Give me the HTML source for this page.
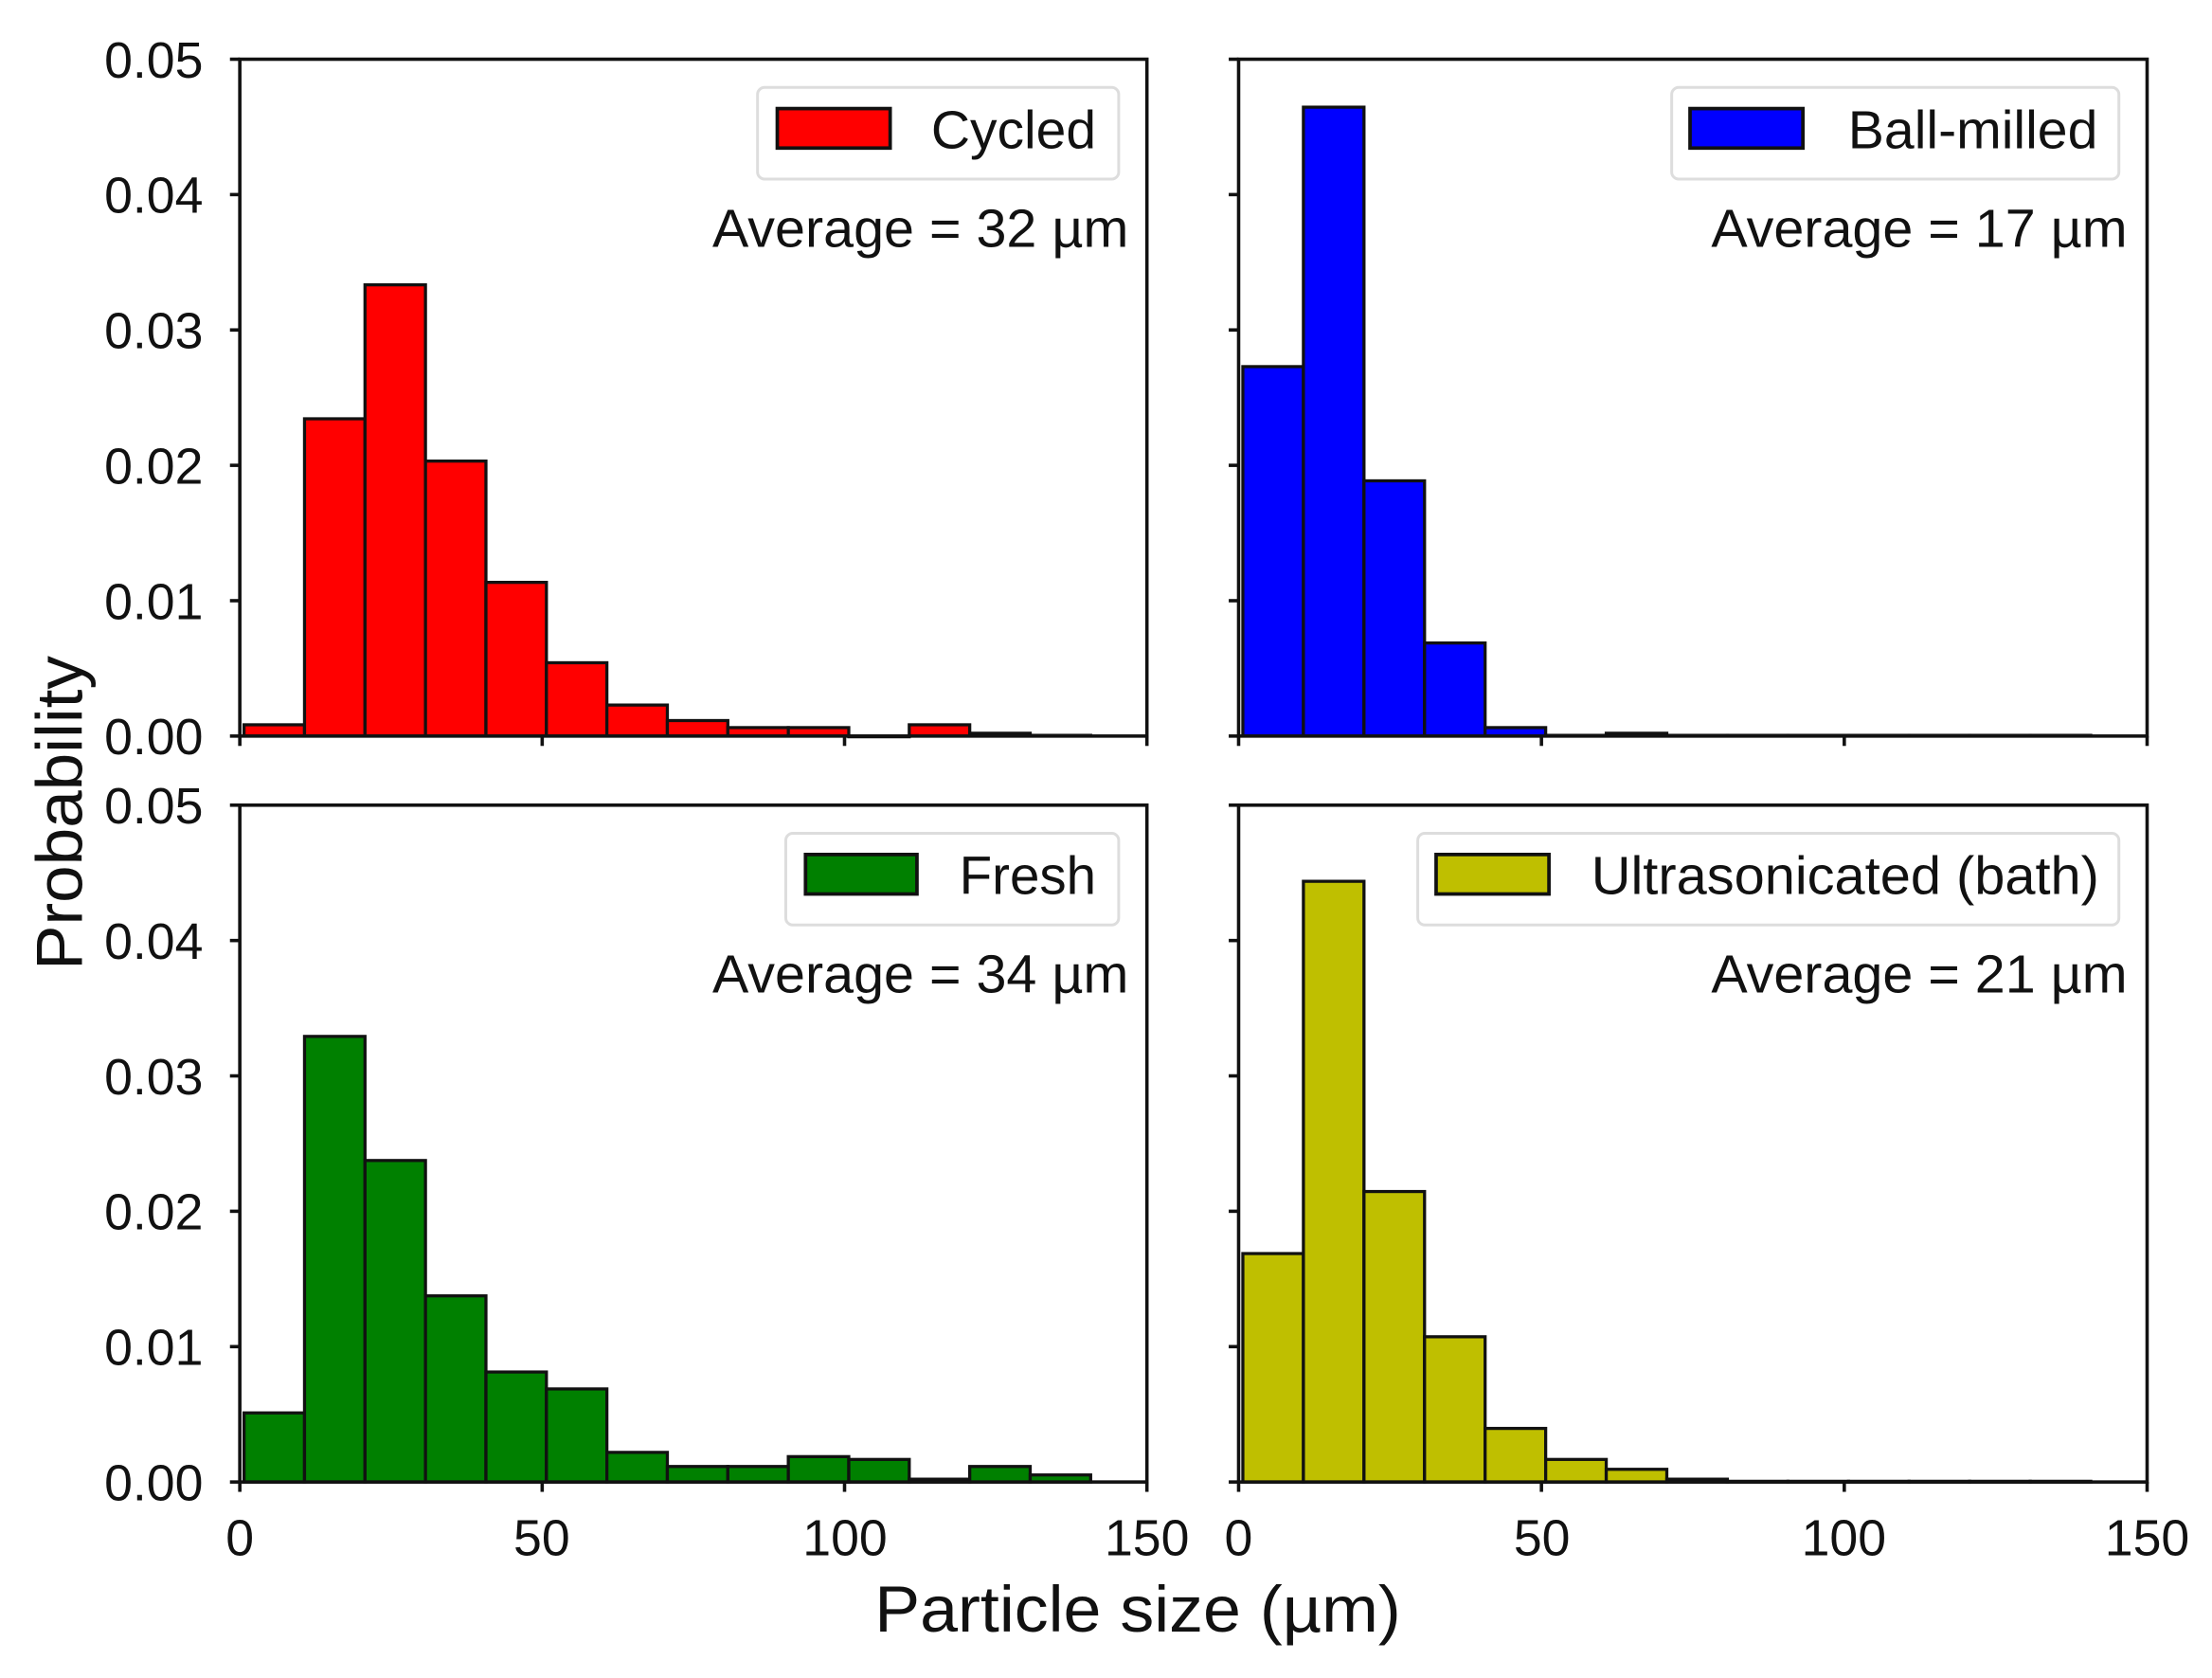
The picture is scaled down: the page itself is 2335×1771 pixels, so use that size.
<!DOCTYPE html>
<html><head><meta charset="utf-8"><style>
html,body{margin:0;padding:0;background:#fff;}
svg{display:block;}
text{font-family:"Liberation Sans",Arial,sans-serif;fill:#111;}
</style></head><body>
<svg id="s" width="2335" height="1771" viewBox="0 0 1568 1190" preserveAspectRatio="none" xmlns="http://www.w3.org/2000/svg">
<g id="bars"></g>
<g fill="none" stroke="#111" stroke-width="2.4">
<rect x="170" y="42" width="643" height="480"/>
<rect x="878" y="42" width="644" height="480"/>
<rect x="170" y="571" width="643" height="480"/>
<rect x="878" y="571" width="644" height="480"/>
</g>
<g id="ticks" stroke="#111" stroke-width="2.4"></g>
<g stroke="#ddd" stroke-width="2" fill="#fff">
<rect x="537" y="62" width="256" height="65" rx="5"/>
<rect x="1185" y="62" width="317" height="65" rx="5"/>
<rect x="557" y="591" width="236" height="65" rx="5"/>
<rect x="1005" y="591" width="497" height="65" rx="5"/>
</g>
<g stroke="#111" stroke-width="2.5">
<rect x="551" y="77" width="80" height="28" fill="#ff0000"/>
<rect x="1198" y="77" width="80" height="28" fill="#0000ff"/>
<rect x="571" y="606" width="79" height="28" fill="#008000"/>
<rect x="1018" y="606" width="80" height="28" fill="#bfbf00"/>
</g>
<g font-size="38">
<text x="660" y="105" textLength="117" lengthAdjust="spacingAndGlyphs">Cycled</text>
<text x="1310" y="105" textLength="177" lengthAdjust="spacingAndGlyphs">Ball-milled</text>
<text x="680" y="634" textLength="97" lengthAdjust="spacingAndGlyphs">Fresh</text>
<text x="1128" y="634" textLength="360" lengthAdjust="spacingAndGlyphs">Ultrasonicated (bath)</text>
<text x="505" y="175" textLength="295" lengthAdjust="spacingAndGlyphs">Average = 32 µm</text>
<text x="1213" y="175" textLength="295" lengthAdjust="spacingAndGlyphs">Average = 17 µm</text>
<text x="505" y="704" textLength="295" lengthAdjust="spacingAndGlyphs">Average = 34 µm</text>
<text x="1213" y="704" textLength="295" lengthAdjust="spacingAndGlyphs">Average = 21 µm</text>
</g>
<g font-size="36" text-anchor="end">
<text x="144" y="55">0.05</text><text x="144" y="151">0.04</text><text x="144" y="247">0.03</text>
<text x="144" y="343">0.02</text><text x="144" y="439">0.01</text><text x="144" y="535">0.00</text>
<text x="144" y="584">0.05</text><text x="144" y="680">0.04</text><text x="144" y="776">0.03</text>
<text x="144" y="872">0.02</text><text x="144" y="968">0.01</text><text x="144" y="1064">0.00</text>
</g>
<g font-size="36" text-anchor="middle">
<text x="170" y="1103">0</text><text x="384" y="1103">50</text><text x="599" y="1103">100</text><text x="813" y="1103">150</text>
<text x="878" y="1103">0</text><text x="1093" y="1103">50</text><text x="1307" y="1103">100</text><text x="1522" y="1103">150</text>
</g>
<text x="620" y="1157" font-size="46" textLength="373" lengthAdjust="spacingAndGlyphs">Particle size (µm)</text>
<text transform="translate(58,688) rotate(-90)" font-size="46" textLength="223" lengthAdjust="spacingAndGlyphs">Probability</text>
</svg>
<script>
var NS="http://www.w3.org/2000/svg";
function el(p,t,a){var e=document.createElementNS(NS,t);for(var k in a)e.setAttribute(k,a[k]);p.appendChild(e);return e;}
var bars=document.getElementById("bars"),ticks=document.getElementById("ticks");
var panels=[
 {x0:170,sx:643/150,base:522,c:"#ff0000",t:[514,297,202,327,413,470,500,511,516,516,522,514,520,521.5]},
 {x0:878,sx:644/150,base:522,c:"#0000ff",t:[260,76,341,456,516,521.5,520,521.5,521.5,521.5,521.5,521.5,521.5,521.5]},
 {x0:170,sx:643/150,base:1051,c:"#008000",t:[1002,735,823,919,973,985,1030,1040,1040,1033,1035,1049,1040,1046]},
 {x0:878,sx:644/150,base:1051,c:"#bfbf00",t:[889,625,845,948,1013,1035,1042,1049,1050.5,1050.5,1050.5,1050.5,1050.5,1050.5]}
];
panels.forEach(function(p){
 for(var i=0;i<p.t.length;i++){
  var a=p.x0+p.sx*(0.7+10*i),b=p.x0+p.sx*(0.7+10*(i+1));
  var h=p.base-p.t[i];
  el(bars,"rect",{x:a,y:p.t[i],width:b-a,height:Math.max(h,0.5),fill:p.c,stroke:"#111","stroke-width":2.2});
 }
 for(var j=0;j<=5;j++){var y=p.base-96*j;el(ticks,"line",{x1:p.x0-7,y1:y,x2:p.x0,y2:y});}
 for(var k=0;k<=3;k++){var x=p.x0+p.sx*50*k;el(ticks,"line",{x1:x,y1:p.base,x2:x,y2:p.base+7});}
});
</script>
</body></html>
